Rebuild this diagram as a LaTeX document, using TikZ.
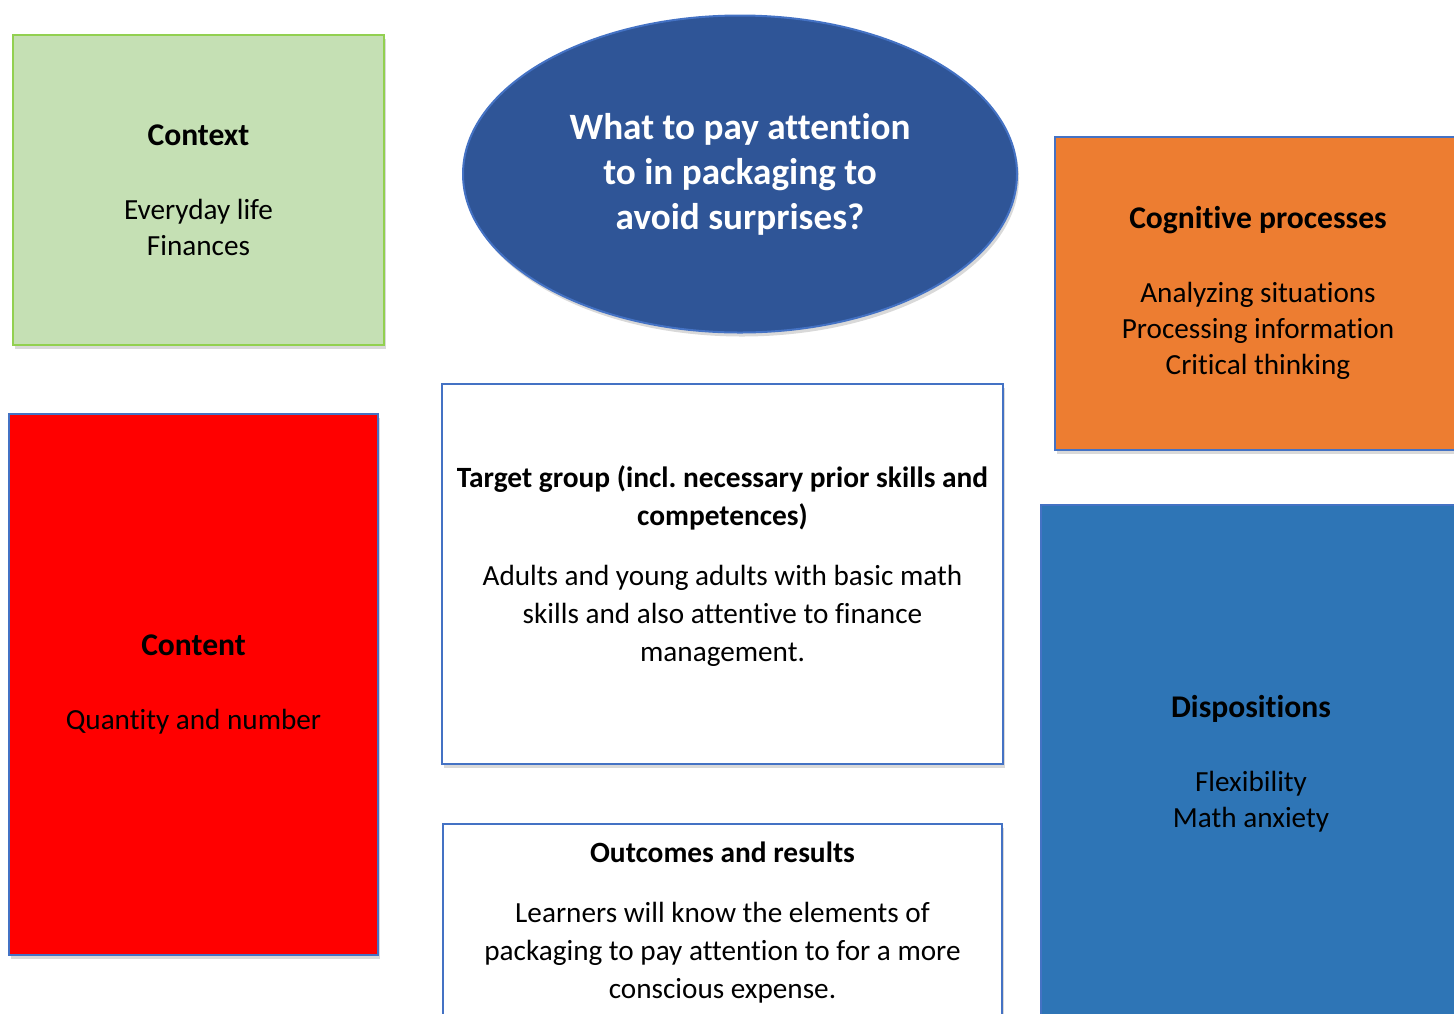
\documentclass[tikz,border=0pt]{standalone}
\usepackage{fontspec}
\setmainfont{Carlito}[Ligatures={NoCommon}]
\usetikzlibrary{shapes.geometric}
\usetikzlibrary{shadows}
\usetikzlibrary{positioning}

\definecolor{edgeblue}{HTML}{4472C4}
\definecolor{edgegreen}{HTML}{92D050}
\definecolor{ctxgreen}{HTML}{C5E0B4}
\definecolor{cogorange}{HTML}{ED7D31}
\definecolor{cntred}{HTML}{FF0000}
\definecolor{dispblue}{HTML}{2E75B6}
\definecolor{questblue}{HTML}{2F5597}

\newcommand{\boxtitle}[1]{{\fontsize{15.8}{19}\selectfont\bfseries #1}}
\newcommand{\smalltitle}[1]{{\fontsize{14.7}{19}\selectfont\bfseries #1}}

\begin{document}
\begin{tikzpicture}[x=0.5pt,y=-0.5pt,
                    every node/.style={align=center,font=\fontsize{14.6}{18}\selectfont},
                    box/.style={rectangle,draw=edgeblue,line width=1pt,inner sep=0pt,
                      drop shadow={opacity=0.3,shadow xshift=1pt,shadow yshift=-2pt}},
                    textbox/.style={box,fill=white,font=\fontsize{14.6}{19}\selectfont}]

  \clip[use as bounding box] (0,0) rectangle (1454,1013);

  \node[ellipse,draw=edgeblue,line width=1pt,fill=questblue,text=white,inner sep=0pt,
        minimum width=277pt,minimum height=158.5pt,
        drop shadow={opacity=0.3,shadow xshift=1pt,shadow yshift=-2pt},
        font=\fontsize{18.6}{22.5}\selectfont\bfseries] (quest) at (740,174)
        {What to pay attention\\to in packaging to\\avoid surprises?};

  \node[box,fill=ctxgreen,draw=edgegreen,minimum width=185.5pt,minimum height=155pt] (ctx) at (198.5,190)
        {\boxtitle{Context}\\[19pt]Everyday life\\Finances};
  \node[box,fill=cogorange,minimum width=203pt,minimum height=156.5pt] (cog) at (1258,293)
        {\boxtitle{Cognitive processes}\\[19pt]Analyzing situations\\Processing information\\Critical thinking};
  \node[box,fill=cntred,minimum width=184.5pt,minimum height=270.5pt] (cnt) at (193.5,684.5)
        {\boxtitle{Content}\\[19pt]Quantity and number};
  \node[box,fill=dispblue,minimum width=210pt,minimum height=259pt] (disp) at (1251,764)
        {\boxtitle{Dispositions}\\[19pt]Flexibility\\Math anxiety};

  \node[textbox,minimum width=280.5pt,minimum height=190pt] (tgt) at (722.5,574)
        {\smalltitle{Target group (incl.\ necessary prior skills and}\\\smalltitle{competences)}\\[11pt]Adults and young adults with basic math\\skills and also attentive to finance\\management.\\[-9pt]\mbox{}};
  \node[textbox,minimum width=279.5pt,minimum height=99pt,below=29pt of tgt] (out)
        {\smalltitle{Outcomes and results}\\[11pt]Learners will know the elements of\\packaging to pay attention to for a more\\conscious expense.};
\end{tikzpicture}
\end{document}
